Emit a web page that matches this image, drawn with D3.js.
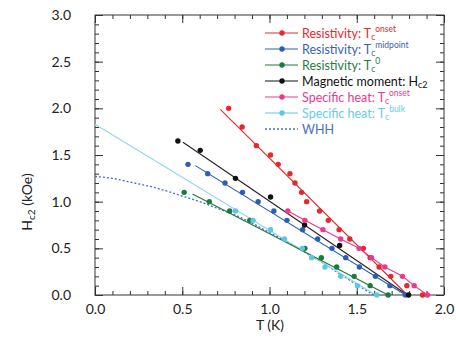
<!DOCTYPE html>
<html><head><meta charset="utf-8">
<script src="https://cdn.jsdelivr.net/npm/d3@7"></script>
<style>body{margin:0;background:#fff}svg{display:block}text{font-family:Lato,"Liberation Sans",sans-serif}</style>
</head><body><svg id="c" width="456" height="346"></svg>
<script>
// ---- data ----
const redT = [0.766,0.843,0.925,1.006,1.05,1.117,1.146,1.184,1.213,1.287,1.337,1.399,1.46,1.538,1.577,1.628,1.695,1.787,1.877];
const redH = [2.0,1.8,1.6,1.5,1.4,1.3,1.2,1.1,1.0,0.9,0.8,0.7,0.6,0.5,0.4,0.3,0.2,0.1,0.0];
const redFitT = [0.718,1.79], redFitH = [1.99,0];
const blueT = [0.533,0.646,0.745,0.845,0.935,1.025,1.10,1.19,1.276,1.358,1.437,1.515,1.607,1.69,1.778];
const blueH = [1.4,1.3,1.2,1.1,1.0,0.9,0.8,0.7,0.6,0.5,0.4,0.3,0.2,0.1,0];
const blueFitT = [0.575,1.78], blueFitH = [1.386,0];
const greenT = [0.511,0.655,0.772,0.887,1.203,1.297,1.385,1.485,1.577,1.68];
const greenH = [1.1,1.0,0.9,0.8,0.5,0.4,0.3,0.2,0.1,0];
const greenFitT = [0.559,1.68], greenFitH = [1.082,0];
const blackT = [0.475,0.603,0.805,1.006,1.201,1.402,1.797];
const blackH = [1.65,1.55,1.25,1.05,0.75,0.53,0];
const blackFitT = [0.504,1.79], blackFitH = [1.636,0];
const pinkT = [1.105,1.203,1.306,1.408,1.513,1.585,1.661,1.762,1.829,1.905];
const pinkH = [0.9,0.8,0.7,0.6,0.5,0.4,0.3,0.2,0.1,0];
const cyanT = [0.805,0.906,1.006,1.086,1.188,1.241,1.318,1.408,1.504,1.615];
const cyanH = [0.9,0.8,0.7,0.6,0.5,0.4,0.3,0.2,0.1,0];
const cyanFitT = [0,1.61], cyanFitH = [1.83,0];
const whhT = [0,0.1,0.2,0.3,0.4,0.5,0.6,0.7,0.8,0.9,1.0,1.1,1.2,1.3,1.4,1.5,1.6];
const whhH = [1.27,1.25,1.21,1.17,1.12,1.06,1.0,0.93,0.86,0.77,0.67,0.57,0.46,0.35,0.23,0.11,0.0];
const xTicks = [0,0.5,1.0,1.5,2.0];
const yTicks = [0,0.5,1.0,1.5,2.0,2.5,3.0];
const xLabel = "T (K)";

const legendItems = [
  {name:"Resistivity: T", sub:"c", sup:"onset", color:"#e5282c", text:"#e5282c"},
  {name:"Resistivity: T", sub:"c", sup:"midpoint", color:"#2c5fb3", text:"#3b62b0"},
  {name:"Resistivity: T", sub:"c", sup:"0", color:"#1d7a3c", text:"#2a7a45"},
  {name:"Magnetic moment: H", sub:"c2", sup:"", color:"#111", text:"#111"},
  {name:"Specific heat: T", sub:"c", sup:"onset", color:"#ea3a8e", text:"#ea3a8e"},
  {name:"Specific heat: T", sub:"c", sup:"bulk", color:"#5ec6e4", text:"#6ccbe6"},
  {name:"WHH", sub:"", sup:"", color:"#4a6fc0", text:"#4a6fc0", dotted:true}
];

// ---- chart ----
const svg = d3.select("#c");
const x = d3.scaleLinear().domain([0,2]).range([95,444]);
const y = d3.scaleLinear().domain([0,3]).range([295,15]);
const minorX = d3.range(0,2.0001,0.1).map(v=>+v.toFixed(2));
const minorY = d3.range(0,3.0001,0.1).map(v=>+v.toFixed(2));
const axisCol = "#333";

function styleAxis(g){ g.select(".domain").remove(); g.selectAll("line").attr("stroke",axisCol); g.selectAll("text").attr("fill","#222").style("font-size","14px"); }

// minor ticks
svg.append("g").attr("transform","translate(0,295)").call(d3.axisBottom(x).tickValues(minorX).tickSize(-4).tickFormat("")).call(styleAxis);
svg.append("g").attr("transform","translate(0,15)").call(d3.axisTop(x).tickValues(minorX).tickSize(-4).tickFormat("")).call(styleAxis);
svg.append("g").attr("transform","translate(95,0)").call(d3.axisLeft(y).tickValues(minorY).tickSize(-4).tickFormat("")).call(styleAxis);
svg.append("g").attr("transform","translate(444,0)").call(d3.axisRight(y).tickValues(minorY).tickSize(-4).tickFormat("")).call(styleAxis);
// major ticks
svg.append("g").attr("transform","translate(0,295)").call(d3.axisBottom(x).tickValues(xTicks).tickSize(-8).tickPadding(9).tickFormat(d3.format(".1f"))).call(styleAxis);
svg.append("g").attr("transform","translate(0,15)").call(d3.axisTop(x).tickValues(xTicks).tickSize(-8).tickFormat("")).call(styleAxis);
svg.append("g").attr("transform","translate(95,0)").call(d3.axisLeft(y).tickValues(yTicks).tickSize(-8).tickPadding(24).tickFormat(d3.format(".1f"))).call(styleAxis);
svg.append("g").attr("transform","translate(444,0)").call(d3.axisRight(y).tickValues(yTicks).tickSize(-8).tickFormat("")).call(styleAxis);

// frame
svg.append("rect").attr("x",95).attr("y",15).attr("width",349).attr("height",280).attr("fill","none").attr("stroke",axisCol).attr("stroke-width",1);

// axis titles
svg.append("text").attr("x",270).attr("y",330).attr("text-anchor","middle").style("font-size","14px").attr("fill","#222").text(xLabel);
const yt = svg.append("text").attr("transform","translate(32,202) rotate(-90)").attr("text-anchor","middle").style("font-size","14px").attr("fill","#222");
yt.append("tspan").text("H");
yt.append("tspan").attr("dy",3).style("font-size","10px").text("c2");
yt.append("tspan").attr("dy",-3).text(" (kOe)");

const line = d3.line().x(d=>x(d[0])).y(d=>y(d[1]));
const whhLine = d3.line().x(d=>x(d[0])).y(d=>y(d[1])).curve(d3.curveMonotoneX);
const zip = (a,b)=>a.map((v,i)=>[v,b[i]]);

function fit(tArr,hArr,color,w){ svg.append("path").attr("d",line(zip(tArr,hArr))).attr("fill","none").attr("stroke",color).attr("stroke-width",w||1.1); }
function dots(tArr,hArr,color){ svg.append("g").selectAll("circle").data(zip(tArr,hArr)).join("circle").attr("cx",d=>x(d[0])).attr("cy",d=>y(d[1])).attr("r",2.7).attr("fill",color); }

// WHH
svg.append("path").attr("d",whhLine(zip(whhT,whhH))).attr("fill","none").attr("stroke","#4a6fc0").attr("stroke-width",1.3).attr("stroke-dasharray","2,2");
fit(cyanFitT,cyanFitH,"#8fd8ec");
fit(greenFitT,greenFitH,"#1d7a3c");
fit(blueFitT,blueFitH,"#2c5fb3");
fit(blackFitT,blackFitH,"#222");
fit(redFitT,redFitH,"#e5282c");
fit(pinkT,pinkH,"#ea3a8e");
dots(greenT,greenH,"#1d7a3c");
dots(cyanT,cyanH,"#5ec6e4");
dots(blueT,blueH,"#2c5fb3");
dots(blackT,blackH,"#111");
dots(redT,redH,"#e5282c");
dots(pinkT,pinkH,"#ea3a8e");

// legend
const lg = svg.append("g");
legendItems.forEach((it,i)=>{
  const yy = 33 + i*16;
  const g = lg.append("g");
  if(it.dotted){
    g.append("line").attr("x1",265).attr("x2",298).attr("y1",yy).attr("y2",yy).attr("stroke",it.color).attr("stroke-width",1.3).attr("stroke-dasharray","2,2");
  } else {
    g.append("line").attr("x1",265).attr("x2",298).attr("y1",yy).attr("y2",yy).attr("stroke",it.color).attr("stroke-width",1);
    g.append("circle").attr("cx",282).attr("cy",yy).attr("r",2.7).attr("fill",it.color);
  }
  const t = g.append("text").attr("x",302).attr("y",yy+4.5).attr("fill",it.text).style("font-size","12.5px");
  t.append("tspan").text(it.name);
  if(it.sub && it.sup){
    t.append("tspan").attr("dy",2.5).style("font-size","8.5px").text(it.sub);
    t.append("tspan").attr("dy",-8).style("font-size","8.5px").text(it.sup);
  } else if(it.sub){
    t.append("tspan").attr("dy",2.5).style("font-size","9px").text(it.sub);
  }
});
</script></body></html>
